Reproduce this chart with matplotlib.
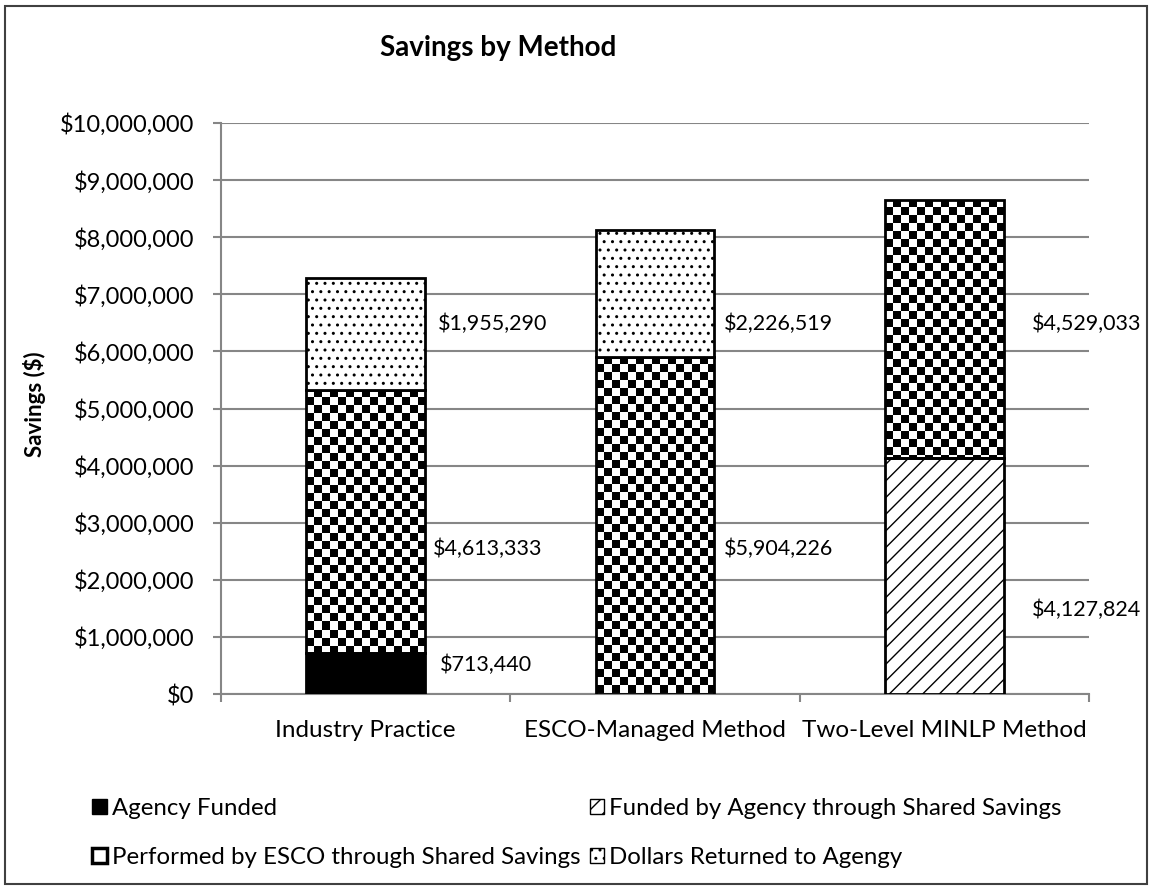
import numpy as np
import matplotlib
matplotlib.use("Agg")
import matplotlib.pyplot as plt
from matplotlib.colors import ListedColormap
from matplotlib.patches import Rectangle, Patch

plt.rcParams['font.family'] = ['Lato', 'DejaVu Sans']
plt.rcParams['hatch.linewidth'] = 1.0

methods = ["Industry Practice", "ESCO-Managed Method", "Two-Level MINLP Method"]
agency_funded = [713440, 0, 0]
agency_shared = [0, 0, 4127824]
esco_shared = [4613333, 5904226, 4529033]
returned = [1955290, 2226519, 0]

series_names = ["Agency Funded", "Funded by Agency through Shared Savings",
                "Performed by ESCO through Shared Savings", "Dollars Returned to Agengy"]

# where each value label sits: (bar index, height in $, series values, offset in px)
label_spots = [
    (0, 6.48e6, returned, 9), (0, 2.54e6, esco_shared, 6), (0, 0.51e6, agency_funded, 11),
    (1, 6.48e6, returned, 7), (1, 2.54e6, esco_shared, 7),
    (2, 6.48e6, esco_shared, 20), (2, 1.47e6, agency_shared, 20),
]

W, H = 1155, 890
fig = plt.figure(figsize=(W / 100, H / 100), dpi=100)
ax = fig.add_axes([221 / W, 1 - 694 / H, (1089 - 221) / W, (694 - 123) / H])
ax.set_xlim(-0.5, 2.5)
ax.set_ylim(0, 10e6)

x = np.arange(len(methods))
bw = 0.41
checker_cmap = ListedColormap(["white", "black"])


def checker_fill(rect, cell=8):
    # black/white checkerboard clipped to a bar
    x0, y0 = rect.get_x(), rect.get_y()
    x1, y1 = x0 + rect.get_width(), y0 + rect.get_height()
    (p0, q0), (p1, q1) = ax.transData.transform([(x0, y0), (x1, y1)])
    nx = int(np.ceil((p1 - p0) / cell)) + 1
    ny = int(np.ceil((q1 - q0) / cell)) + 1
    dx = (x1 - x0) * cell / (p1 - p0)
    dy = (y1 - y0) * cell / (q1 - q0)
    grid = np.indices((ny, nx)).sum(axis=0) % 2
    im = ax.imshow(grid, cmap=checker_cmap, origin="upper", interpolation="nearest",
                   extent=(x0, x0 + nx * dx, y1 - ny * dy, y1), aspect="auto", zorder=2)
    im.set_clip_path(rect)


bottom = np.zeros(3)
stack = [(agency_funded, dict(facecolor="black")),
         (agency_shared, dict(facecolor="white", hatch="//")),
         (esco_shared, dict(facecolor="none")),
         (returned, dict(facecolor="white", hatch=".."))]
for i, (vals, style) in enumerate(stack):
    vals = np.array(vals, dtype=float)
    keep = vals > 0
    bars = ax.bar(x[keep], vals[keep], bw, bottom=bottom[keep], edgecolor="black",
                  linewidth=2, zorder=3, **style)
    if i == 2:
        for b in bars:
            checker_fill(b)
    bottom += vals

ax.set_xlim(-0.5, 2.5)
ax.set_ylim(0, 10e6)

for idx, yv, vals, off in label_spots:
    ax.annotate("${:,.0f}".format(vals[idx]), (x[idx] + bw / 2, yv),
                xytext=(off, 0), textcoords="offset points", va="center", ha="left",
                fontsize=15.5, color="black")

grey = "#868686"
ax.set_yticks(np.arange(0, 10.1e6, 1e6))
ax.set_yticklabels(["${:,.0f}".format(v) for v in np.arange(0, 10.1e6, 1e6)])
ax.yaxis.grid(True, color=grey, linewidth=1.5)
ax.set_axisbelow(True)
ax.set_xticks(x)
ax.set_xticklabels(methods)
ax.set_xticks([-0.5, 0.5, 1.5, 2.5], minor=True)
ax.tick_params(axis="x", which="major", length=0, pad=19, labelsize=17.5)
ax.tick_params(axis="x", which="minor", length=6, width=1.5, color=grey, direction="out")
ax.tick_params(axis="y", length=6, width=1.5, color=grey, pad=13, labelsize=17)
for s in ["top", "right"]:
    ax.spines[s].set_visible(False)
for s in ["left", "bottom"]:
    ax.spines[s].set_color(grey)
    ax.spines[s].set_linewidth(1.5)

fig.text(498 / W, 1 - 48 / H, "Savings by Method", ha="center", va="center",
         fontsize=20, fontweight="bold")
fig.text(34 / W, 1 - 404 / H, "Savings ($)", ha="center", va="center",
         rotation=90, fontsize=16, fontweight="bold")

handles = [Patch(facecolor="black", edgecolor="black"),
           Patch(facecolor="white", edgecolor="black", linewidth=2.5),
           Patch(facecolor="white", edgecolor="black", hatch="//"),
           Patch(facecolor="white", edgecolor="black", hatch="..")]
labels = [series_names[0], series_names[2], series_names[1], series_names[3]]
fig.legend(handles, labels, loc="upper center", bbox_to_anchor=(577 / W, 1 - 786 / H),
           ncol=2, frameon=False, fontsize=17.3, handlelength=0.6, handleheight=0.6,
           handletextpad=0.2, columnspacing=0.4, labelspacing=1.15, borderpad=0)

fig.patches.append(Rectangle((5 / W, 6 / H), 1142 / W, 878 / H, transform=fig.transFigure,
                             fill=False, edgecolor="#404040", linewidth=1.5))

fig.savefig("out.png", dpi=100)
